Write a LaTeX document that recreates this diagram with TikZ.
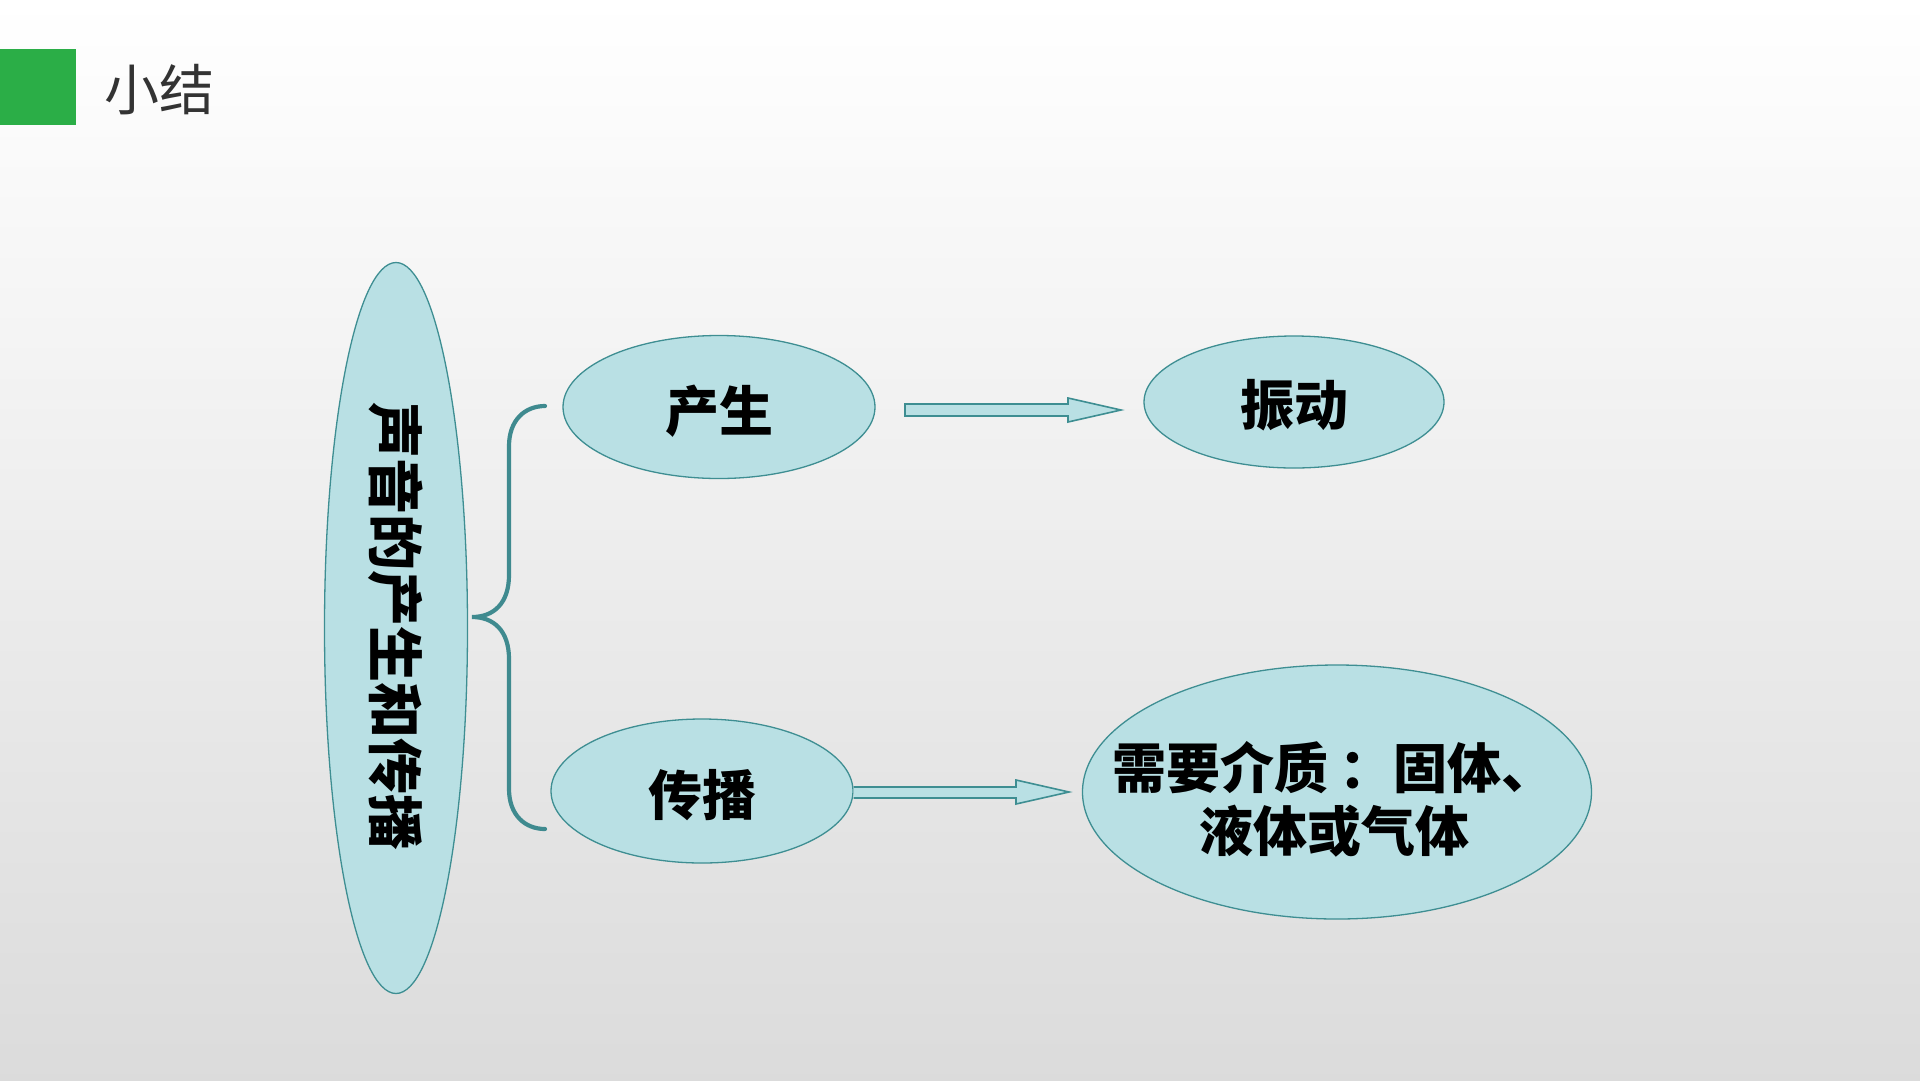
\documentclass[tikz,border=0pt]{standalone}
\usepackage{fontspec}
\newfontfamily\cjk{Noto Sans CJK SC}
\IfFontExistsTF{Noto Sans CJK SC Black}
  {\newfontfamily\cjkh{Noto Sans CJK SC Black}}
  {\newfontfamily\cjkh[UprightFont={* Bold}]{Noto Sans CJK SC}}
\usetikzlibrary{shapes.geometric}
\definecolor{bub}{HTML}{B9E0E4}
\definecolor{bubline}{HTML}{3E8E92}
\definecolor{brc}{HTML}{3F8A8F}
\definecolor{grn}{HTML}{2BAE47}
\definecolor{ttl}{HTML}{333333}
\tikzset{
  bubble/.style={ellipse, draw=bubline, line width=1.3pt, fill=bub, inner sep=0pt},
  lab/.style={font=\cjkh\fontsize{54}{63}\selectfont, text=black, inner sep=0pt},
  blockarrow/.style={draw=bubline, line width=1.6pt, fill=bub, line join=miter},
}
\begin{document}
\begin{tikzpicture}[x=1pt,y=-1pt]
\shade[top color=white, bottom color=black!14] (0,0) rectangle (1920,1080);
\useasboundingbox (0,0) rectangle (1920,1080);
% title
\fill[grn] (0,49) rectangle (76,125);
\node[font=\cjk\fontsize{55}{60}\selectfont, text=ttl] (title) at (159,90) {小结};
% ellipses
\node[bubble, minimum width=143pt, minimum height=731pt] (main) at (396,628) {};
\node[lab, rotate=-90, font=\cjkh\fontsize{56}{60}\selectfont] (maintxt) at (396,626) {声音的产生和传播};
\node[bubble, minimum width=312pt, minimum height=143pt] (cs) at (719,407) {};
\node[lab] (cst) at (719,411) {产生};
\node[bubble, minimum width=300pt, minimum height=132pt] (zd) at (1294,402) {};
\node[lab] (zdt) at (1294,405) {振动};
\node[bubble, minimum width=302pt, minimum height=144pt] (cb) at (702,791) {};
\node[lab] (cbt) at (702,795) {传播};
\node[bubble, minimum width=509pt, minimum height=254pt] (jz) at (1337,792) {};
\node[lab, align=center] (jzt) at (1334,799) {需要介质\hspace{0.22em}：固体、\\液体或气体};
% brace
\coordinate (btop) at (545,406);
\coordinate (bmid) at (472,617);
\coordinate (bbot) at (545,829);
\draw[brc, line width=4.2pt, line cap=round]
  (btop) .. controls (525,406) and (509,420) .. (509,446)
  -- (509,575) .. controls (509,603) and (494,617) .. (bmid)
  .. controls (494,617) and (509,631) .. (509,659)
  -- (509,789) .. controls (509,815) and (525,829) .. (bbot);
% arrows
\draw[blockarrow] (905,404) -- (1068,404) -- (1068,398) -- (1121,410) -- (1068,422) -- (1068,416) -- (905,416) -- cycle;
\draw[blockarrow] (cb.east |- 0,787) -- (1016,787) -- (1016,780) -- (1069,792) -- (1016,804) -- (1016,798) -- (cb.east |- 0,798);
\end{tikzpicture}
\end{document}
